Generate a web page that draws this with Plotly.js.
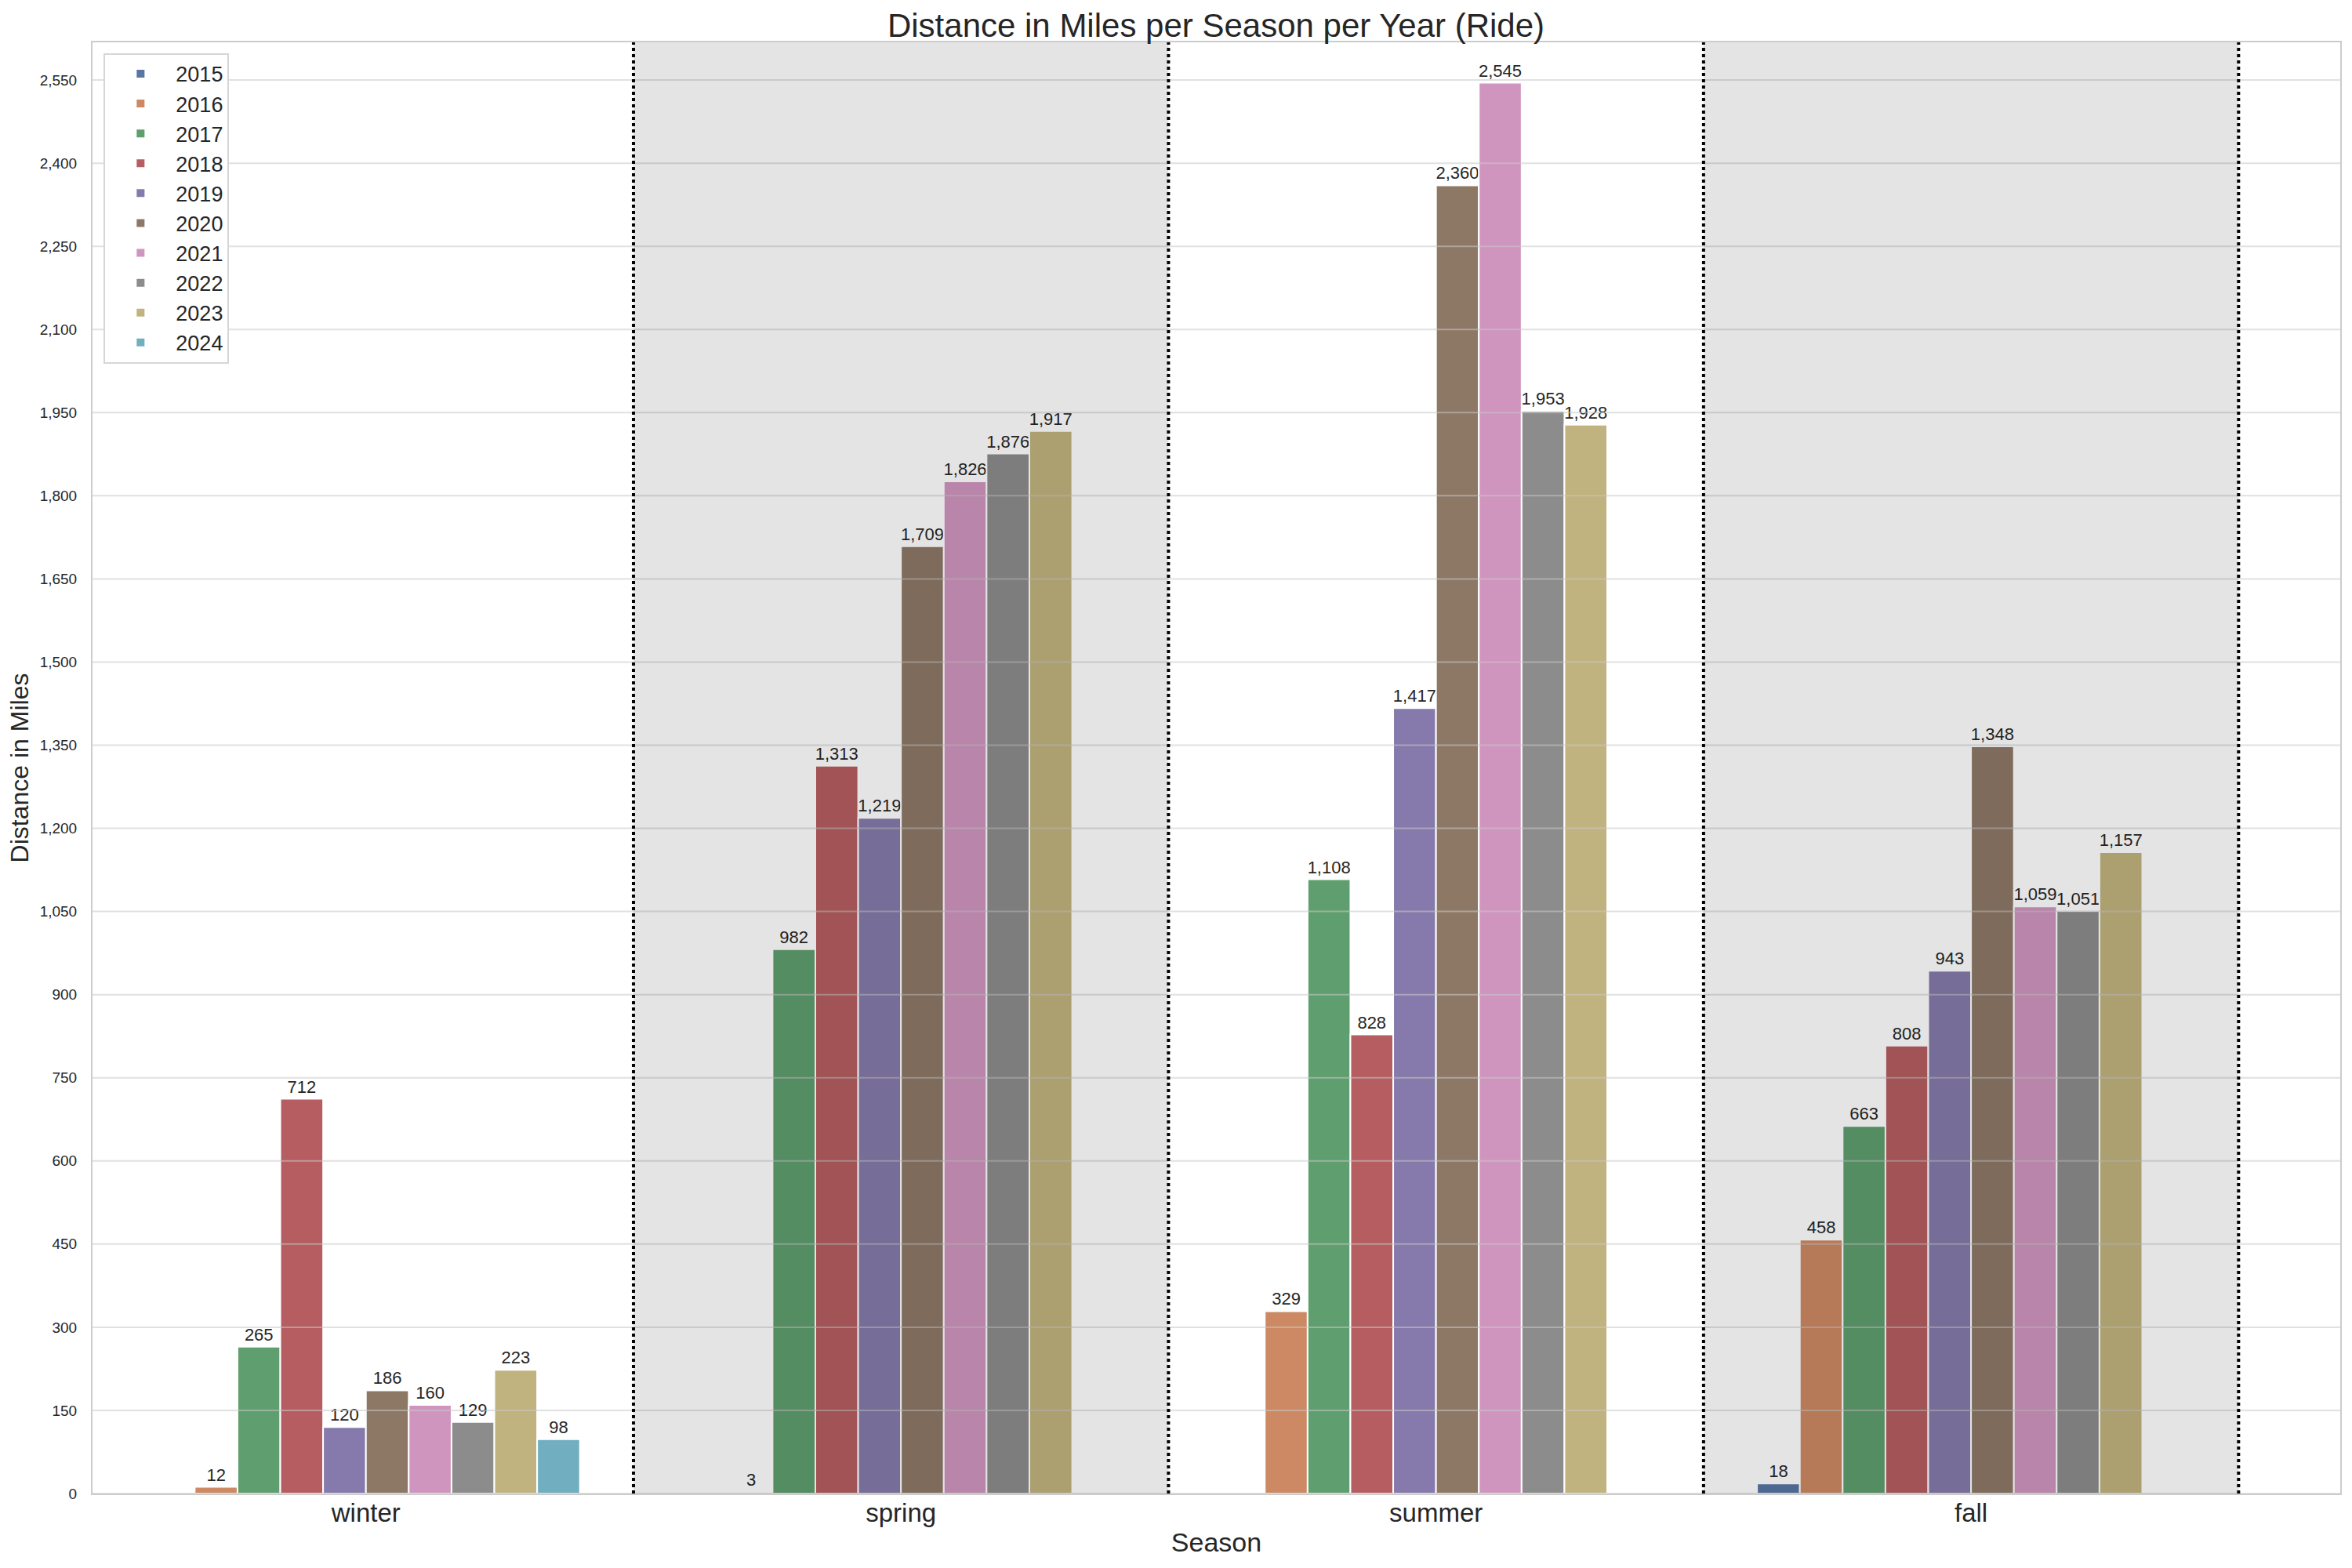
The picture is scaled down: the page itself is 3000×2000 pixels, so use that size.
<!DOCTYPE html>
<html>
<head>
<meta charset="utf-8">
<script src="https://cdn.plot.ly/plotly-3.0.1.min.js"></script>
<style>
  html, body { margin: 0; padding: 0; background: #fff; }
  #chart { width: 3000px; height: 2000px; }
</style>
</head>
<body>
<div id="chart"></div>
<script>
const seasons = ['winter', 'spring', 'summer', 'fall'];
const years = ['2015', '2016', '2017', '2018', '2019', '2020', '2021', '2022', '2023', '2024'];

// miles per season, one array per year (null = no rides that season)
const miles2015 = [null, null, null, 18];
const miles2016 = [12, 3, 329, 458];
const miles2017 = [265, 982, 1108, 663];
const miles2018 = [712, 1313, 828, 808];
const miles2019 = [120, 1219, 1417, 943];
const miles2020 = [186, 1709, 2360, 1348];
const miles2021 = [160, 1826, 2545, 1059];
const miles2022 = [129, 1876, 1953, 1051];
const miles2023 = [223, 1917, 1928, 1157];
const miles2024 = [98, null, null, null];

const yTicks = [0, 150, 300, 450, 600, 750, 900, 1050, 1200, 1350, 1500, 1650, 1800, 1950, 2100, 2250, 2400, 2550];

// seaborn "deep" palette, desaturated like barplot does
const yearColors = ['#5975a4', '#cc8963', '#5f9e6e', '#b55d60', '#857aab',
                    '#8d7866', '#d095bf', '#8c8c8c', '#c1b37f', '#71aec0'];

const allMiles = [miles2015, miles2016, miles2017, miles2018, miles2019,
                  miles2020, miles2021, miles2022, miles2023, miles2024];

const FONT = 'Liberation Sans, Arial, sans-serif';
const INK = '#262626';

const traces = years.map((year, i) => ({
    type: 'bar',
    name: year,
    x: seasons,
    y: allMiles[i],
    marker: { color: yearColors[i], line: { color: '#ffffff', width: 2 } },
    texttemplate: '%{y:,}',
    textposition: 'outside',
    constraintext: 'none',
    cliponaxis: false,
    textfont: { family: FONT, size: 22, color: INK },
    hovertemplate: `<b>${year}</b> %{x}: %{y:,} mi<extra></extra>`
}));

// grid drawn over the bars, then the shaded season bands, then the dotted separators
const gridShapes = yTicks.map(v => ({
    type: 'line', xref: 'paper', yref: 'y',
    x0: 0, x1: 1, y0: v, y1: v,
    layer: 'above',
    line: { color: 'rgba(200,200,200,0.55)', width: 2 }
}));

const bandShapes = [1, 3].map(k => ({
    type: 'rect', xref: 'x', yref: 'paper',
    x0: k - 0.5, x1: k + 0.5, y0: 0, y1: 1,
    layer: 'above',
    fillcolor: 'rgba(0,0,0,0.105)',
    line: { width: 0 }
}));

const dividerShapes = seasons.map((s, k) => ({
    type: 'line', xref: 'x', yref: 'paper',
    x0: k + 0.5, x1: k + 0.5, y0: 0, y1: 1,
    layer: 'above',
    line: { color: '#000000', width: 4, dash: 'dot' }
}));

const layout = {
    width: 3000,
    height: 2000,
    barmode: 'group',
    bargap: 0.2,
    bargroupgap: 0,
    title: {
        text: 'Distance in Miles per Season per Year (Ride)',
        font: { family: FONT, size: 42, color: INK },
        x: 0.517, xanchor: 'center',
        y: 0.984, yanchor: 'middle'
    },
    font: { family: FONT, color: INK },
    xaxis: {
        type: 'category',
        range: [-0.511, 3.69],
        showgrid: false,
        zeroline: false,
        showline: true, mirror: true, linecolor: '#cccccc', linewidth: 2,
        ticks: '',
        ticklen: 0,
        ticklabelstandoff: -6,
        tickfont: { family: FONT, size: 33, color: INK },
        title: { text: 'Season', font: { family: FONT, size: 34, color: INK }, standoff: 9 }
    },
    yaxis: {
        range: [0, 2618],
        tickvals: yTicks,
        tickformat: ',',
        showgrid: false,
        zeroline: false,
        showline: true, mirror: true, linecolor: '#cccccc', linewidth: 2,
        ticks: '',
        ticklabelstandoff: 14,
        tickfont: { family: FONT, size: 19, color: INK },
        title: { text: 'Distance in Miles', font: { family: FONT, size: 32, color: INK }, standoff: 4 }
    },
    legend: {
        x: 0.005, y: 0.9925, xanchor: 'left', yanchor: 'top',
        bgcolor: '#ffffff',
        bordercolor: '#d6d6d6', borderwidth: 2,
        font: { family: FONT, size: 27, color: INK },
        itemwidth: 80,
        traceorder: 'normal'
    },
    margin: { l: 118, r: 15, t: 54, b: 95 },
    paper_bgcolor: '#ffffff',
    plot_bgcolor: '#ffffff',
    shapes: [...gridShapes, ...bandShapes, ...dividerShapes]
};

Plotly.newPlot('chart', traces, layout, { displayModeBar: false, staticPlot: true });
</script>
</body>
</html>
